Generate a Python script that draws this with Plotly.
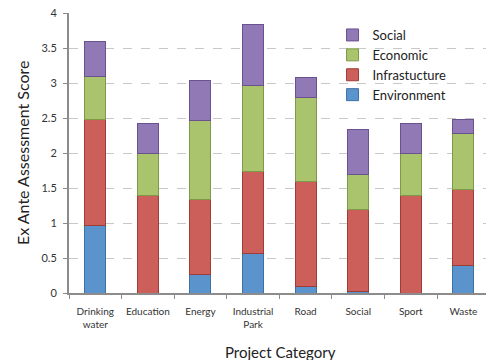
import plotly.graph_objects as go

categories = ["Drinking<br>water", "Education", "Energy", "Industrial<br>Park",
              "Road", "Social", "Sport", "Waste"]
environment = [0.96, 0.00, 0.26, 0.56, 0.10, 0.02, 0.00, 0.39]
infrastructure = [1.52, 1.39, 1.07, 1.18, 1.49, 1.18, 1.39, 1.09]
economic = [0.62, 0.60, 1.13, 1.23, 1.20, 0.50, 0.60, 0.80]
social = [0.49, 0.43, 0.57, 0.87, 0.29, 0.64, 0.43, 0.20]
y_ticks = [0, 0.5, 1, 1.5, 2, 2.5, 3, 3.5, 4]

series = [
    ("Environment", environment, "#5B93CC", "#3F6FA3"),
    ("Infrastucture", infrastructure, "#CD5F5A", "#9E3C38"),
    ("Economic", economic, "#A9C46C", "#7E9A48"),
    ("Social", social, "#9179B5", "#6A5290"),
]

FONT = "Lato, 'Open Sans', sans-serif"

fig = go.Figure()
for name, vals, col, edge in series:
    fig.add_trace(go.Bar(
        x=categories, y=vals, name=name,
        marker=dict(color=col, line=dict(color=edge, width=1)),
        width=0.4,
    ))

fig.update_layout(
    barmode="stack",
    width=486, height=360,
    margin=dict(l=69, r=0, t=13, b=67),
    paper_bgcolor="white", plot_bgcolor="white",
    font=dict(family=FONT, color="#333333"),
    legend=dict(
        traceorder="reversed",
        x=0.632, y=0.975, xanchor="left", yanchor="top",
        font=dict(size=13, color="#222222"),
        tracegroupgap=0,
        bgcolor="rgba(0,0,0,0)",
    ),
    xaxis=dict(
        range=[-0.5, 7.43],
        automargin=False,
        showline=True, linecolor="#8c8c8c", linewidth=2,
        ticks="outside", tickson="boundaries", ticklen=4, tickcolor="#8c8c8c",
        tickangle=0, ticklabelstandoff=8,
        showgrid=False,
        tickfont=dict(size=10, color="#333333"),
    ),
    yaxis=dict(
        range=[0, 4],
        automargin=False,
        tickvals=y_ticks, ticktext=[f"{v:g}" for v in y_ticks],
        showline=True, linecolor="#8c8c8c", linewidth=2,
        ticks="outside", ticklen=4, tickcolor="#8c8c8c",
        ticklabelstandoff=4,
        showgrid=True, gridcolor="#c8c8c8", griddash="dash", gridwidth=1,
        zeroline=False,
        tickfont=dict(size=11, color="#333333"),
    ),
    annotations=[
        dict(text="Project Category", xref="paper", yref="paper",
             x=(280 - 69) / 417, y=-(352 - 293) / 280, xanchor="center", yanchor="middle",
             showarrow=False, font=dict(size=15, color="#222222")),
        dict(text="Ex Ante Assessment Score", xref="paper", yref="paper",
             x=-(69 - 22) / 417, y=0.5, xanchor="center", yanchor="middle", textangle=-90,
             showarrow=False, font=dict(size=16, color="#222222")),
    ],
)

fig.write_html("out.html")
